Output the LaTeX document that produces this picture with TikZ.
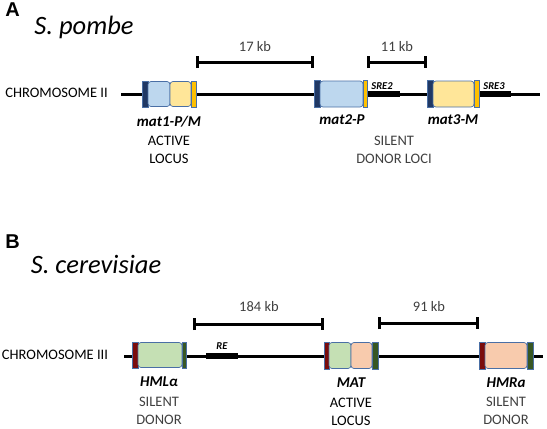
\documentclass[tikz,border=0pt]{standalone}
\usepackage{fontspec}
\setmainfont{Carlito}
\newfontfamily\panelfont{Liberation Sans}
\usetikzlibrary{arrows.meta}
\definecolor{navy}{HTML}{203864}
\definecolor{lblue}{HTML}{BDD7EE}
\definecolor{lyellow}{HTML}{FFE699}
\definecolor{gold}{HTML}{FFC000}
\definecolor{outl}{HTML}{4A6FA5}
\definecolor{dred}{HTML}{7B0C0C}
\definecolor{lgreen}{HTML}{C5E0B4}
\definecolor{peach}{HTML}{F8CBAD}
\definecolor{dgreen}{HTML}{385723}
\definecolor{graytxt}{HTML}{404040}
\tikzset{
  x=1pt, y=-1pt,
  chr/.style={line width=3pt, black},
  elem/.style={line width=5.5pt, black},
  scalebar/.style={line width=3pt, black, {Bar[width=12pt]}-{Bar[width=12pt]}},
  locus/.style={inner sep=0pt, outer sep=0pt, draw=none},
  endbar/.style={draw=outl, line width=0.7pt},
  inbox/.style={draw=outl, line width=0.7pt, rounded corners=3pt},
  lab/.style={inner sep=0pt, text height=0.63em, text depth=0pt, font=\fontsize{14.5}{16}\selectfont},
  glab/.style={lab, text=graytxt},
  gene/.style={lab, font=\fontsize{15}{16}\selectfont\bfseries\itshape},
  small/.style={inner sep=0pt, text height=0.63em, text depth=0pt, font=\fontsize{10.5}{12}\selectfont\bfseries\itshape},
  panel/.style={inner sep=0pt, text height=0.72em, text depth=0pt, font=\fontsize{20}{22}\selectfont\panelfont\bfseries},
  species/.style={inner sep=0pt, text height=0.63em, text depth=0pt, font=\fontsize{26.5}{28}\selectfont\itshape},
}
\begin{document}
\begin{tikzpicture}
\useasboundingbox (0,0) rectangle (547,429);
% ---------------- Panel A ----------------
\node[panel] (pA) at (12.5,12.5) {A};
\node[species] (spA) at (84,31) {S. pombe};
\node[lab] (chrAlab) at (56.5,94) {CHROMOSOME II};
\coordinate (a0) at (121,94);
\coordinate (a9) at (540,94);
\node[locus, minimum width=54pt, minimum height=26pt] (mat1) at (169,94) {};
\node[locus, minimum width=53pt, minimum height=27pt] (mat2) at (340.5,94) {};
\node[locus, minimum width=52pt, minimum height=27pt] (mat3) at (453,94) {};
\coordinate (sre2e) at (400,94);
\coordinate (sre3e) at (511,94);
\draw[chr] (a0) -- (mat1.west);
\draw[chr] (mat1.east) -- (mat2.west);
\draw[chr] (mat2.east) -- (mat3.west);
\draw[chr] (mat3.east) -- (a9);
\draw[elem] (mat2.east) -- (sre2e);
\draw[elem] (mat3.east) -- (sre3e);
% mat1
\draw[endbar, fill=navy] (142,81) rectangle (148,107);
\draw[inbox, fill=lblue] (148,81.5) rectangle (170,106.5);
\draw[inbox, fill=lyellow] (170,81.5) rectangle (191,106.5);
\draw[endbar, fill=gold] (191,81) rectangle (196,107);
% mat2
\draw[endbar, fill=navy] (314,80.5) rectangle (320,107.5);
\draw[inbox, fill=lblue] (320,81) rectangle (363,107);
\draw[endbar, fill=gold] (363,80.5) rectangle (367,107.5);
% mat3
\draw[endbar, fill=navy] (427,80.5) rectangle (433,107.5);
\draw[inbox, fill=lyellow] (433,81) rectangle (474,107);
\draw[endbar, fill=gold] (474,80.5) rectangle (479,107.5);
\node[small, anchor=south] (sre2) at (382,90) {SRE2};
\node[small, anchor=south] (sre3) at (494,90) {SRE3};
% scale bars A
\coordinate (s17a) at (196,62);
\coordinate (s17b) at (314,62);
\coordinate (s11a) at (367,62);
\coordinate (s11b) at (427,62);
\draw[scalebar] (s17a) -- (s17b);
\draw[scalebar] (s11a) -- (s11b);
\node[glab] (kb17) at (255,48) {17 kb};
\node[glab] (kb11) at (397,48) {11 kb};
% labels A
\node[gene] (mat1lab) at (169,123) {mat1-P/M};
\node[lab] (actA) at (169,142) {ACTIVE};
\node[lab] (locA) at (169,160) {LOCUS};
\node[gene] (mat2lab) at (342,121) {mat2-P};
\node[gene] (mat3lab) at (453,121) {mat3-M};
\node[glab] (silA) at (394,142) {SILENT};
\node[glab] (donA) at (394,160) {DONOR LOCI};
% ---------------- Panel B ----------------
\node[panel] (pB) at (12.5,245) {B};
\node[species] (spB) at (96,270) {S. cerevisiae};
\node[lab] (chrBlab) at (55,356) {CHROMOSOME III};
\coordinate (b0) at (124,356);
\coordinate (b9) at (543,356);
\node[locus, minimum width=54pt, minimum height=26pt] (hml) at (159,356) {};
\node[locus, minimum width=54pt, minimum height=27pt] (mat) at (351,356) {};
\node[locus, minimum width=54pt, minimum height=27pt] (hmr) at (506,356) {};
\coordinate (re0) at (206,356);
\coordinate (re1) at (238,356);
\draw[chr] (b0) -- (hml.west);
\draw[chr] (hml.east) -- (re0);
\draw[elem] (re0) -- (re1);
\draw[chr] (re1) -- (mat.west);
\draw[chr] (mat.east) -- (hmr.west);
\draw[chr] (hmr.east) -- (b9);
\node[small, anchor=south] (relab) at (222,350) {RE};
% HML
\draw[endbar, fill=dred] (132,342) rectangle (138,368);
\draw[inbox, fill=lgreen] (138,342.5) rectangle (182,367.5);
\draw[endbar, fill=dgreen] (182,342) rectangle (186,368);
% MAT
\draw[endbar, fill=dred] (324,342) rectangle (329,369);
\draw[inbox, fill=lgreen] (329,342.5) rectangle (351,368.5);
\draw[inbox, fill=peach] (351,342.5) rectangle (372,368.5);
\draw[endbar, fill=dgreen] (372,342) rectangle (378,369);
% HMR
\draw[endbar, fill=dred] (479,342) rectangle (485,369);
\draw[inbox, fill=peach] (485,342.5) rectangle (527,368.5);
\draw[endbar, fill=dgreen] (527,342) rectangle (533,369);
% scale bars B
\coordinate (s184a) at (193,324);
\coordinate (s184b) at (324,324);
\coordinate (s91a) at (378,323);
\coordinate (s91b) at (479,323);
\draw[scalebar] (s184a) -- (s184b);
\draw[scalebar] (s91a) -- (s91b);
\node[glab] (kb184) at (259,308) {184 kb};
\node[glab] (kb91) at (429,308) {91 kb};
% labels B
\node[gene] (hmllab) at (159,383) {HMLα};
\node[glab] (silB1) at (159,403) {SILENT};
\node[glab] (donB1) at (159,421) {DONOR};
\node[gene] (matlab) at (351,384) {MAT};
\node[lab] (actB) at (351,404) {ACTIVE};
\node[lab] (locB) at (351,422) {LOCUS};
\node[gene] (hmrlab) at (506,384) {HMRa};
\node[glab] (silB2) at (506,403) {SILENT};
\node[glab] (donB2) at (506,421) {DONOR};
\end{tikzpicture}
\end{document}
